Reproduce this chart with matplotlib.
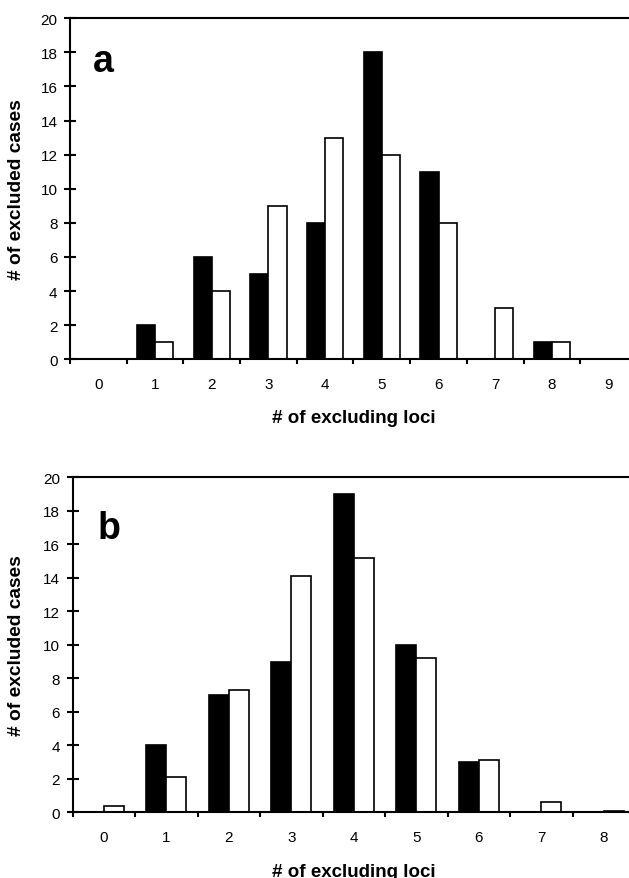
import numpy as np
import matplotlib
matplotlib.use("Agg")
import matplotlib.pyplot as plt

plt.rcParams["font.family"] = ["Liberation Sans", "DejaVu Sans"]

# panel a
loci_a = list(range(10))
black_a = [0, 2, 6, 5, 8, 18, 11, 0, 1, 0]
white_a = [0, 1, 4, 9, 13, 12, 8, 3, 1, 0]

# panel b
loci_b = list(range(9))
black_b = [0, 4, 7, 9, 19, 10, 3, 0, 0]
white_b = [0.35, 2.1, 7.3, 14.1, 15.2, 9.2, 3.1, 0.6, 0.08]

Y_TICKS = list(range(0, 21, 2))
XLABEL = "# of excluding loci"
YLABEL = "# of excluded cases"


def draw_panel(ax, cats, black, white, letter, letter_xy, xlab_y, ylab_x):
    x = np.array(cats)
    ax.bar(x - 0.16, black, width=0.32, color="black", edgecolor="black", linewidth=1.2)
    ax.bar(x + 0.16, white, width=0.32, color="white", edgecolor="black", linewidth=1.2)

    ax.set_xlim(-0.5, len(cats) - 0.5)
    ax.set_ylim(0, 20)

    for side in ["left", "bottom", "top"]:
        ax.spines[side].set_linewidth(1.5)
    ax.spines["right"].set_visible(False)

    ax.set_yticks(Y_TICKS)
    ax.tick_params(axis="y", direction="inout", length=8, width=1.5, pad=5, labelsize=11)

    # ticks between categories, labels in the middle
    ax.set_xticks(np.arange(-0.5, len(cats), 1.0))
    ax.set_xticklabels([])
    ax.set_xticks(x, minor=True)
    ax.set_xticklabels([str(c) for c in cats], minor=True)
    ax.tick_params(axis="x", which="major", direction="out", length=3.5, width=1.5)
    ax.tick_params(axis="x", which="minor", length=0, pad=13, labelsize=11)

    ax.set_xlabel(XLABEL, fontsize=13.5, fontweight="bold", va="baseline")
    ax.xaxis.set_label_coords(0.5, xlab_y)
    ax.set_ylabel(YLABEL, fontsize=13.8, fontweight="bold", va="center")
    ax.yaxis.set_label_coords(ylab_x, 0.5)

    ax.text(letter_xy[0], letter_xy[1], letter, fontsize=27, fontweight="bold",
            ha="left", va="baseline")


fig = plt.figure(figsize=(6.29, 8.79), dpi=100)
ax_a = fig.add_axes([0.1113, 0.5901, 0.9014, 0.388])
ax_b = fig.add_axes([0.1156, 0.0747, 0.8943, 0.3811])

draw_panel(ax_a, loci_a, black_a, white_a, "a", (-0.094, 16.9), -0.184, -0.094)
draw_panel(ax_b, loci_b, black_b, white_b, "b", (-0.1, 16.4), -0.189, -0.1)

fig.savefig("out.png", dpi=100)
